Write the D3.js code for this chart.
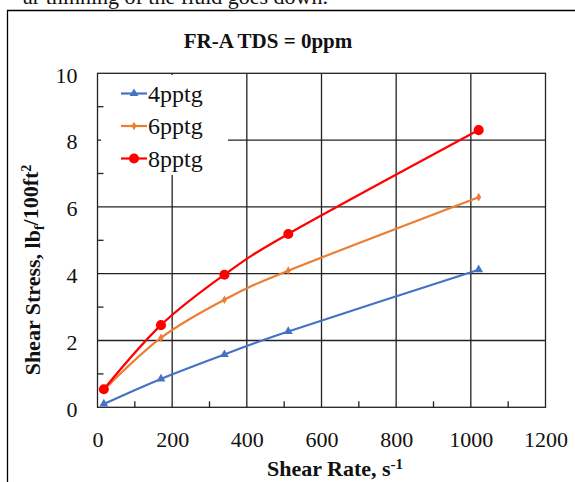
<!DOCTYPE html>
<html>
<head>
<meta charset="utf-8">
<script src="https://cdn.jsdelivr.net/npm/d3@7"></script>
<style>
  html, body { margin: 0; padding: 0; background: #fff; }
  svg { display: block; }
  text { font-family: "Liberation Serif", "Times New Roman", Times, serif; fill: #111; }
</style>
</head>
<body>
<svg id="chart" width="575" height="482"></svg>
<script>
// Shear rate (s^-1) measured for each concentration
const shearRates = [17, 170, 340, 511, 1021];
const series4pptg = [0.1, 0.85, 1.58, 2.27, 4.12];
const series6pptg = [0.52, 2.08, 3.22, 4.09, 6.29];
const series8pptg = [0.54, 2.46, 3.97, 5.19, 8.30];
const seriesNames = ["4pptg", "6pptg", "8pptg"];
const seriesColors = ["#4472C4", "#ED7D31", "#FF0000"];
const xTicks = [0, 200, 400, 600, 800, 1000, 1200];
const yTicks = [0, 2, 4, 6, 8, 10];

const svg = d3.select("#chart");

// Running text line above the figure frame
svg.append("text")
  .attr("x", 328).attr("y", 4)
  .attr("text-anchor", "end")
  .style("font-size", "22px")
  .text("ar thinning of the fluid goes down.");

// Figure frame
svg.append("path")
  .attr("d", "M7.5,490 V10.5 H590")
  .attr("fill", "none").attr("stroke", "#000").attr("stroke-width", 1.3);

const x = d3.scaleLinear().domain([0, 1200]).range([97.5, 545.5]);
const y = d3.scaleLinear().domain([0, 10]).range([407.3, 73.3]);

// Title
svg.append("text")
  .attr("x", 268).attr("y", 48)
  .attr("text-anchor", "middle")
  .style("font-size", "21px").style("font-weight", "bold")
  .text("FR-A TDS = 0ppm");

// Gridlines
const grid = svg.append("g").attr("stroke", "#222").attr("stroke-width", 1.3);
grid.selectAll("line.v").data(xTicks.slice(1, -1)).join("line")
  .attr("x1", d => x(d)).attr("x2", d => x(d))
  .attr("y1", y(0)).attr("y2", y(10));
grid.selectAll("line.h").data(yTicks.slice(1, -1)).join("line")
  .attr("x1", x(0)).attr("x2", x(1200))
  .attr("y1", d => y(d)).attr("y2", d => y(d));

// Legend background hides the grid beneath it
svg.append("rect")
  .attr("x", 101).attr("y", 75).attr("width", 127).attr("height", 100)
  .attr("fill", "#fff");

// Plot frame
svg.append("rect")
  .attr("x", x(0)).attr("y", y(10))
  .attr("width", x(1200) - x(0)).attr("height", y(0) - y(10))
  .attr("fill", "none").attr("stroke", "#222").attr("stroke-width", 1.3);

// Axes with inward minor ticks
const xAxis = d3.axisBottom(x).tickValues(xTicks).tickFormat(d3.format("d")).tickSize(0).tickPadding(24);
const gx = svg.append("g").attr("transform", `translate(0,${y(0)})`).call(xAxis);
gx.select(".domain").remove();
gx.selectAll("text").style("font-size", "22px").style("font-family", "Liberation Serif").attr("fill", "#111");

const yAxis = d3.axisLeft(y).tickValues(yTicks).tickFormat(d3.format("d")).tickSize(0).tickPadding(20);
const gy = svg.append("g").attr("transform", `translate(${x(0)},0)`).call(yAxis);
gy.select(".domain").remove();
gy.selectAll("text").style("font-size", "22px").style("font-family", "Liberation Serif").attr("fill", "#111").attr("dy", "0.4em");

const minorX = d3.range(100, 1200, 200);
svg.append("g").selectAll("line").data(minorX).join("line")
  .attr("x1", d => x(d)).attr("x2", d => x(d))
  .attr("y1", y(0)).attr("y2", y(0) - 6)
  .attr("stroke", "#222").attr("stroke-width", 1.3);
const minorY = d3.range(1, 10, 2);
svg.append("g").selectAll("line").data(minorY).join("line")
  .attr("x1", x(0)).attr("x2", x(0) + 6)
  .attr("y1", d => y(d)).attr("y2", d => y(d))
  .attr("stroke", "#222").attr("stroke-width", 1.3);

// Axis titles
const xt = svg.append("text")
  .attr("x", 335).attr("y", 476)
  .attr("text-anchor", "middle")
  .style("font-size", "22px").style("font-weight", "bold");
xt.append("tspan").text("Shear Rate, s");
xt.append("tspan").attr("dy", "-0.45em").style("font-size", "15px").text("-1");

const yt = svg.append("text")
  .attr("transform", "translate(40,270) rotate(-90)")
  .attr("text-anchor", "middle")
  .style("font-size", "22px").style("font-weight", "bold");
yt.append("tspan").text("Shear Stress, lb");
yt.append("tspan").attr("dy", "0.3em").style("font-size", "14px").text("f");
yt.append("tspan").attr("dy", "-0.3em").text("/100ft");
yt.append("tspan").attr("dy", "-0.45em").style("font-size", "14px").text("2");

// Series
const allSeries = [series4pptg, series6pptg, series8pptg];
const symbols = [
  d3.symbol().type(d3.symbolTriangle).size(34),
  d3.symbol().type(d3.symbolDiamond).size(22),
  d3.symbol().type(d3.symbolCircle).size(80)
];
const line = d3.line()
  .x(d => x(d[0])).y(d => y(d[1]))
  .curve(d3.curveCatmullRom.alpha(0));

allSeries.forEach((vals, i) => {
  const pts = shearRates.map((r, k) => [r, vals[k]]);
  const g = svg.append("g");
  g.append("path").datum(pts)
    .attr("d", line)
    .attr("fill", "none")
    .attr("stroke", seriesColors[i])
    .attr("stroke-width", 2.2);
  g.selectAll("path.m").data(pts).join("path")
    .attr("class", "m")
    .attr("d", symbols[i])
    .attr("transform", d => `translate(${x(d[0])},${y(d[1])})`)
    .attr("fill", seriesColors[i]);
});

// Legend
const legendY = [93.5, 126, 158.5];
seriesNames.forEach((name, i) => {
  const g = svg.append("g");
  g.append("line")
    .attr("x1", 121).attr("x2", 147)
    .attr("y1", legendY[i]).attr("y2", legendY[i])
    .attr("stroke", seriesColors[i]).attr("stroke-width", 2.2);
  g.append("path")
    .attr("d", symbols[i])
    .attr("transform", `translate(134,${legendY[i]})`)
    .attr("fill", seriesColors[i]);
  g.append("text")
    .attr("x", 148).attr("y", legendY[i] + 8)
    .style("font-size", "24px")
    .text(name);
});
</script>
</body>
</html>
